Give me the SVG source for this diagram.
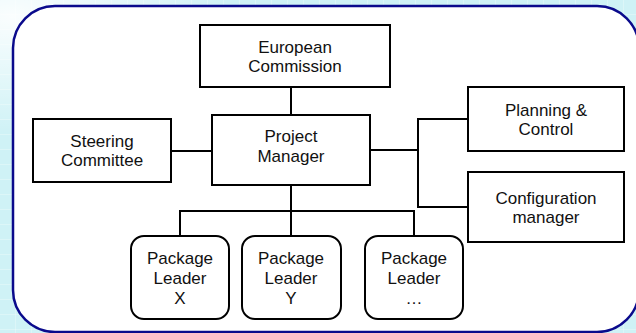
<svg xmlns="http://www.w3.org/2000/svg" width="636" height="333" viewBox="0 0 636 333">
  <defs>
    <pattern id="grid" width="16" height="15" patternUnits="userSpaceOnUse">
      <path d="M16 0 V15 M0 15 H16" fill="none" stroke="#ffffff" stroke-width="1" stroke-opacity="0.55"/>
    </pattern>
    <radialGradient id="glow" cx="0.02" cy="0.05" r="0.35">
      <stop offset="0" stop-color="#ffffff" stop-opacity="0.9"/>
      <stop offset="1" stop-color="#ffffff" stop-opacity="0"/>
    </radialGradient>
    <style>
      .box { fill: #ffffff; stroke: #000000; stroke-width: 2; }
      .lbl { font-family: "Liberation Sans", Arial, sans-serif; font-size: 17px; fill: #111111; text-anchor: middle; }
      .wire { fill: none; stroke: #000000; stroke-width: 2; }
    </style>
  </defs>

  <!-- backdrop -->
  <rect x="0" y="0" width="636" height="333" fill="#cff2f6"/>
  <rect x="0" y="0" width="636" height="333" fill="url(#grid)"/>
  <rect x="0" y="0" width="636" height="333" fill="url(#glow)"/>

  <!-- panel -->
  <rect x="13" y="6" width="626" height="326" rx="42" ry="42" fill="#ffffff" stroke="#0a0a8c" stroke-width="2.5"/>

  <!-- connectors -->
  <g id="connectors">
    <path class="wire" d="M291 87 V115"/>
    <path class="wire" d="M171 151 H212"/>
    <path class="wire" d="M370 150 H418"/>
    <path class="wire" d="M468 119 H418 V207 H468"/>
    <path class="wire" d="M291 185 V211"/>
    <path class="wire" d="M180 236 V211 H414 V236"/>
    <path class="wire" d="M291 211 V236"/>
  </g>

  <g id="european-commission">
    <rect class="box" x="200" y="25" width="190" height="62"/>
    <text class="lbl" x="295" y="52.5">European</text>
    <text class="lbl" x="295" y="72">Commission</text>
  </g>

  <g id="project-manager">
    <rect class="box" x="212" y="115" width="158" height="70"/>
    <text class="lbl" x="291" y="141.5">Project</text>
    <text class="lbl" x="291" y="162">Manager</text>
  </g>

  <g id="steering-committee">
    <rect class="box" x="33" y="119" width="138" height="63"/>
    <text class="lbl" x="102" y="146.5">Steering</text>
    <text class="lbl" x="102" y="166">Committee</text>
  </g>

  <g id="planning-control">
    <rect class="box" x="468" y="87" width="156" height="64"/>
    <text class="lbl" x="546" y="115.5">Planning &amp;</text>
    <text class="lbl" x="546" y="135">Control</text>
  </g>

  <g id="configuration-manager">
    <rect class="box" x="468" y="172" width="156" height="70"/>
    <text class="lbl" x="546" y="203.5">Configuration</text>
    <text class="lbl" x="546" y="223">manager</text>
  </g>

  <g id="package-leader-x">
    <rect class="box" x="131" y="236" width="98" height="83" rx="13" ry="13"/>
    <text class="lbl" x="180" y="264">Package</text>
    <text class="lbl" x="180" y="284">Leader</text>
    <text class="lbl" x="180" y="304">X</text>
  </g>

  <g id="package-leader-y">
    <rect class="box" x="242" y="236" width="99" height="83" rx="13" ry="13"/>
    <text class="lbl" x="291" y="264">Package</text>
    <text class="lbl" x="291" y="284">Leader</text>
    <text class="lbl" x="291" y="304">Y</text>
  </g>

  <g id="package-leader-more">
    <rect class="box" x="365" y="236" width="98" height="83" rx="13" ry="13"/>
    <text class="lbl" x="414" y="264">Package</text>
    <text class="lbl" x="414" y="284">Leader</text>
    <text class="lbl" x="414" y="304">…</text>
  </g>
</svg>
